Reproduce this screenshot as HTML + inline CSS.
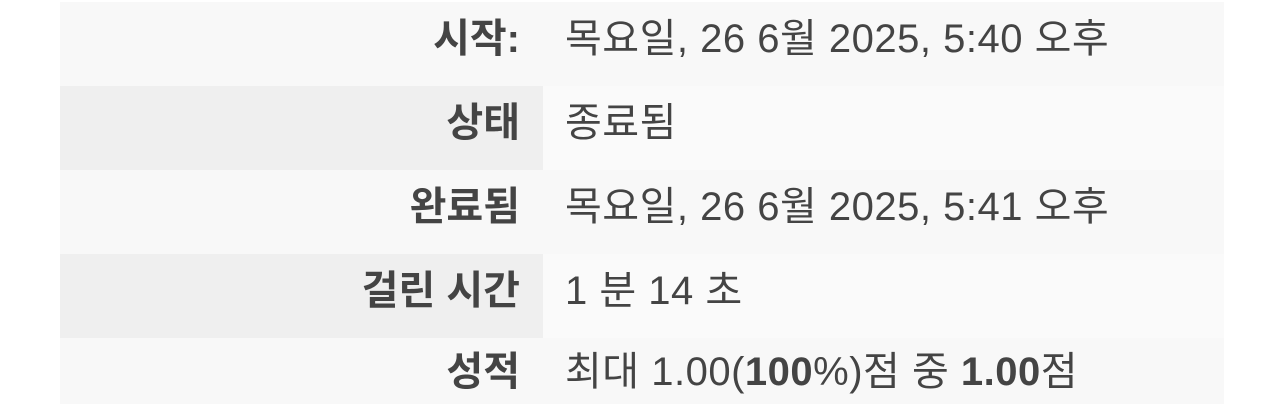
<!DOCTYPE html>
<html><head><meta charset="utf-8"><style>
body{margin:0;width:1284px;height:404px;background:#fff;overflow:hidden;font-family:"Liberation Sans","Noto Sans CJK KR",sans-serif;color:#444;}
table{position:absolute;left:60px;top:2px;width:1164px;border-collapse:collapse;}
td,th{height:84px;padding:0 0 10px 0;box-sizing:border-box;font-size:40px;line-height:42px;vertical-align:middle;}
th{width:483px;text-align:right;padding-right:23px;font-weight:bold;}
td{padding-left:22px;text-align:left;font-weight:normal;white-space:nowrap;letter-spacing:0.5px;}
tr.odd th,tr.odd td{background:#f8f8f8;}
tr.even th{background:#efefef;}
tr.even td{background:#fafafa;}
tr.last th,tr.last td{height:66px;padding-bottom:0;vertical-align:top;padding-top:13px;}
</style></head><body>
<table>
<tr class="odd"><th>시작:</th><td>목요일, 26 6월 2025, 5:40 오후</td></tr>
<tr class="even"><th>상태</th><td>종료됨</td></tr>
<tr class="odd"><th>완료됨</th><td>목요일, 26 6월 2025, 5:41 오후</td></tr>
<tr class="even"><th>걸린 시간</th><td>1 분 14 초</td></tr>
<tr class="odd last"><th>성적</th><td>최대 1.00(<b>100</b>%)점 중 <b>1.00</b>점</td></tr>
</table>
</body></html>
